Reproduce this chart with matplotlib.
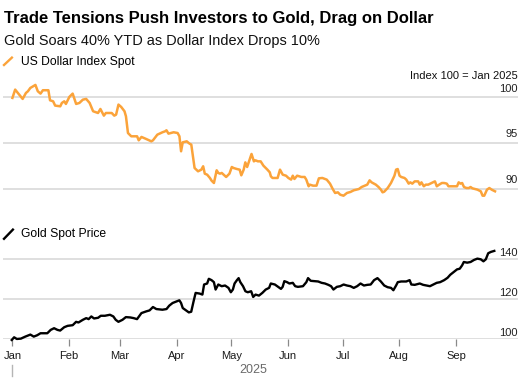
import matplotlib
matplotlib.use("Agg")
import matplotlib.pyplot as plt
import matplotlib.dates as mdates
from matplotlib.lines import Line2D
import pandas as pd

plt.rcParams["font.family"] = ["Liberation Sans", "DejaVu Sans"]

# US Dollar Index Spot (days since 2025-01-01, index value)
usd_day = [0, 1.5, 3.3, 5.6, 7.4, 8.5, 9.8, 11.3, 12.6, 13.9, 15.4, 16.7, 19.7, 20.6, 22.3, 23.4,
           26.2, 27.1, 28.4, 29.3, 31.2, 33.0, 34.9, 36.7, 38.6, 40.4, 42.3, 44.2, 46.9, 48.2,
           50.1, 51.2, 54.4, 55.8, 56.8, 58.1, 59.6, 61.4, 62.2, 63.3, 65.1, 68.3, 69.2, 70.7,
           72.9, 76.1, 77.0, 79.4, 82.2, 83.7, 84.4, 85.5, 88.3, 90.5, 91.5, 92.4, 93.3, 95.5,
           97.0, 98.0, 98.9, 99.8, 101.7, 103.5, 104.5, 105.4, 106.7, 108.2, 109.1, 110.4,
           111.9, 112.8, 113.7, 114.7, 117.1, 118.9, 120.2, 121.2, 123.0, 124.5, 125.4, 126.7,
           127.6, 128.6, 131.0, 132.3, 133.2, 134.5, 136.0, 137.5, 139.7, 141.0, 141.6, 142.5,
           145.3, 146.6, 148.1, 149.9, 151.2, 152.7, 153.6, 154.5, 156.0, 158.3, 160.1, 161.0,
           162.3, 162.9, 164.7, 166.6, 167.9, 169.8, 172.2, 174.0, 175.5, 176.8, 178.3, 179.6,
           181.4, 183.3, 185.2, 187.0, 189.8, 191.3, 193.1, 194.4, 195.7, 196.8, 199.1, 200.6,
           201.9, 202.8, 203.7, 205.6, 207.4, 209.3, 210.2, 211.1, 212.1, 213.0, 214.8, 215.8,
           217.1, 218.0, 219.1, 220.4, 222.3, 223.2, 224.1, 225.4, 226.5, 227.8, 229.7, 231.5,
           232.5, 233.8, 235.3, 236.5, 238.0, 238.9, 241.7, 243.6, 244.5, 245.5, 246.4, 247.4,
           248.8, 250.1, 251.0, 252.0, 254.8, 256.6, 257.6, 258.5, 260.0, 261.3, 262.6, 264.4]
usd_val = [99.93, 100.84, 100.40, 99.82, 100.47, 100.66, 101.02, 101.20, 101.35, 100.66, 100.40,
           100.77, 100.77, 99.67, 99.56, 99.09, 99.01, 99.38, 99.56, 99.27, 100.04, 100.40, 99.27,
           99.38, 99.74, 99.82, 99.38, 98.47, 98.28, 98.72, 97.99, 98.28, 98.28, 97.99, 98.10,
           99.20, 98.94, 98.47, 97.92, 96.09, 95.73, 95.73, 95.29, 95.66, 95.47, 95.18, 95.29,
           95.91, 96.17, 96.28, 96.39, 96.02, 96.17, 96.09, 95.73, 94.09, 95.07, 95.18, 94.93,
           94.82, 93.54, 92.26, 91.90, 92.08, 92.45, 91.64, 91.53, 91.17, 90.88, 90.62, 92.01,
           91.72, 91.64, 91.72, 91.28, 91.64, 92.37, 92.26, 92.15, 92.08, 91.46, 92.08, 92.88,
           92.37, 93.80, 92.99, 93.10, 92.99, 92.99, 92.52, 92.08, 91.79, 91.35, 91.17, 91.17,
           92.08, 91.53, 91.42, 91.17, 90.99, 91.42, 91.06, 91.42, 91.28, 91.28, 90.99, 90.26,
           90.44, 90.33, 90.33, 91.13, 91.17, 90.99, 90.55, 89.96, 89.53, 89.60, 89.34, 89.23,
           89.53, 89.64, 89.82, 89.96, 90.18, 90.33, 90.44, 90.91, 90.69, 90.44, 90.18, 89.89,
           89.60, 89.67, 90.07, 90.62, 91.42, 92.08, 92.15, 91.42, 91.28, 91.17, 90.99, 90.55,
           90.69, 90.55, 90.80, 90.80, 90.44, 90.69, 90.26, 90.44, 90.44, 90.62, 90.80, 90.26,
           90.44, 90.62, 90.62, 90.55, 90.26, 90.26, 90.26, 90.69, 90.55, 90.62, 90.18, 90.07,
           90.07, 90.18, 90.04, 89.89, 89.71, 89.23, 89.23, 89.89, 90.07, 89.89, 89.71]

# Gold Spot Price (zoom-read pixel positions converted to days / index)
gold_zx = [35, 42, 50, 62, 75, 90, 100, 110, 120, 140, 150, 160, 170, 178, 190, 200, 215, 225,
           232, 245, 255, 262, 270, 278, 290, 298, 310, 325, 335, 342, 350, 362, 372, 385, 395,
           405, 418, 432, 442, 452, 462, 480, 492, 500, 510, 520, 530, 535, 540, 550, 558, 565,
           572, 578, 590, 598, 603, 612, 617, 625, 632, 637, 645, 655, 665, 675, 682, 688, 693,
           700, 705, 710, 718, 725, 732, 742, 748, 755, 765, 775, 785, 795, 800, 812, 822, 830,
           835, 840, 848, 855, 865, 872, 880, 895, 905, 910, 918, 930, 940, 950, 960, 970, 978,
           985, 995, 1005, 1015, 1025, 1035, 1045, 1055, 1065, 1075, 1085, 1095, 1105, 1115,
           1125, 1135, 1145, 1155, 1162, 1170, 1175, 1185, 1200, 1210, 1215, 1225, 1240, 1250,
           1260, 1270, 1280, 1290, 1300, 1312, 1322, 1330, 1340, 1350, 1358, 1365, 1370, 1380,
           1390, 1400, 1410, 1420, 1428, 1435, 1442, 1450, 1460]
gold_zy = [390, 382, 387, 386, 380, 374, 380, 376, 370, 370, 360, 355, 360, 362, 352, 348, 346,
           336, 338, 330, 325, 328, 320, 326, 324, 318, 318, 315, 320, 330, 336, 330, 322, 323,
           325, 328, 310, 305, 302, 292, 298, 300, 298, 288, 280, 276, 272, 280, 295, 302, 308,
           306, 275, 250, 252, 255, 225, 222, 208, 212, 218, 240, 225, 230, 228, 235, 248, 240,
           222, 212, 206, 218, 230, 245, 248, 245, 262, 255, 258, 250, 240, 235, 222, 225, 232,
           238, 232, 215, 218, 222, 220, 230, 232, 230, 218, 206, 214, 215, 216, 220, 222, 226,
           230, 240, 232, 230, 225, 228, 230, 235, 230, 222, 228, 226, 225, 212, 206, 216, 228,
           233, 235, 242, 228, 218, 216, 216, 212, 225, 226, 222, 226, 228, 230, 225, 220, 218,
           212, 205, 196, 188, 180, 178, 168, 158, 160, 158, 152, 148, 150, 156, 150, 132, 128,
           125]
gold_day = [(x - 37) / 5.39 for x in gold_zx]
gold_val = [100 + (388 - y) / 5.95 for y in gold_zy]

month_starts = pd.date_range("2025-01-01", "2025-09-01", freq="MS")
usd_ticks = [90, 95, 100]
gold_ticks = [100, 120, 140]

ORANGE = "#fba33a"
GRID = "#dcdcdc"

base = pd.Timestamp("2025-01-01")
usd_dates = base + pd.to_timedelta(usd_day, unit="D")
gold_dates = base + pd.to_timedelta(gold_day, unit="D")

W, H = 531, 382
fig = plt.figure(figsize=(W / 100, H / 100), dpi=100)


def fx(px):
    return px / W


def fy(py):
    return 1 - py / H


left, right = fx(3.3), fx(518)
ax1 = fig.add_axes([left, fy(200), right - left, fy(80) - fy(200)])
ax2 = fig.add_axes([left, fy(339.3), right - left, fy(245) - fy(339.3)], sharex=ax1)

xmin = base - pd.Timedelta(days=5)
xmax = base + pd.Timedelta(days=277)

ax1.plot(usd_dates, usd_val, color=ORANGE, lw=1.8, solid_joinstyle="round", zorder=3)
ax1.set_ylim(88.76, 101.89)
ax2.plot(gold_dates, gold_val, color="black", lw=1.7, solid_joinstyle="round", zorder=3,
         clip_on=False)
ax2.set_ylim(100, 147.15)
ax1.set_xlim(xmin, xmax)

for ax, ticks, off in [(ax1, usd_ticks, 4.0), (ax2, gold_ticks, 2.6)]:
    for s in ax.spines.values():
        s.set_visible(False)
    ax.set_yticks([])
    for t in ticks:
        ax.axhline(t, color=GRID, lw=1.3, zorder=1)
        ax.annotate(str(t), xy=(1, t), xycoords=("axes fraction", "data"),
                    xytext=(0, off), textcoords="offset points", ha="right",
                    va="baseline", fontsize=8, color="#222222")

ax1.tick_params(axis="x", bottom=False, labelbottom=False)
ax2.set_xticks(month_starts)
ax2.xaxis.set_major_formatter(mdates.DateFormatter("%b"))
ax2.tick_params(axis="x", length=5.2, width=0.9, color="#8a8a8a", pad=3,
                labelsize=8, labelcolor="#1a1a1a")

# year marker under Jan
ax2.add_line(Line2D([base, base], [-0.2725, -0.389], color="#b5b5b5", lw=1.0,
                    transform=ax2.get_xaxis_transform(), clip_on=False))
fig.text(fx(253), fy(373), "2025", ha="center", va="baseline", fontsize=9,
         color="#6a6a6a")

# header
fig.text(fx(4), fy(23), "Trade Tensions Push Investors to Gold, Drag on Dollar",
         fontsize=12, fontweight="bold", va="baseline", color="black")
fig.text(fx(4), fy(44.5), "Gold Soars 40% YTD as Dollar Index Drops 10%",
         fontsize=10.45, va="baseline", color="#111111")

# legends
fig.add_artist(Line2D([fx(4), fx(11.9)], [fy(65), fy(57.6)], color=ORANGE, lw=1.7))
fig.text(fx(21), fy(65), "US Dollar Index Spot", fontsize=8.7, va="baseline")
fig.add_artist(Line2D([fx(4), fx(12.9)], [fy(238.8), fy(229.6)], color="black", lw=1.7))
fig.text(fx(21), fy(237.5), "Gold Spot Price", fontsize=8.7, va="baseline")

fig.text(fx(518), fy(79), "Index 100 = Jan 2025", fontsize=8.05, ha="right",
         va="baseline", color="#111111")

fig.savefig("out.png", dpi=100)
